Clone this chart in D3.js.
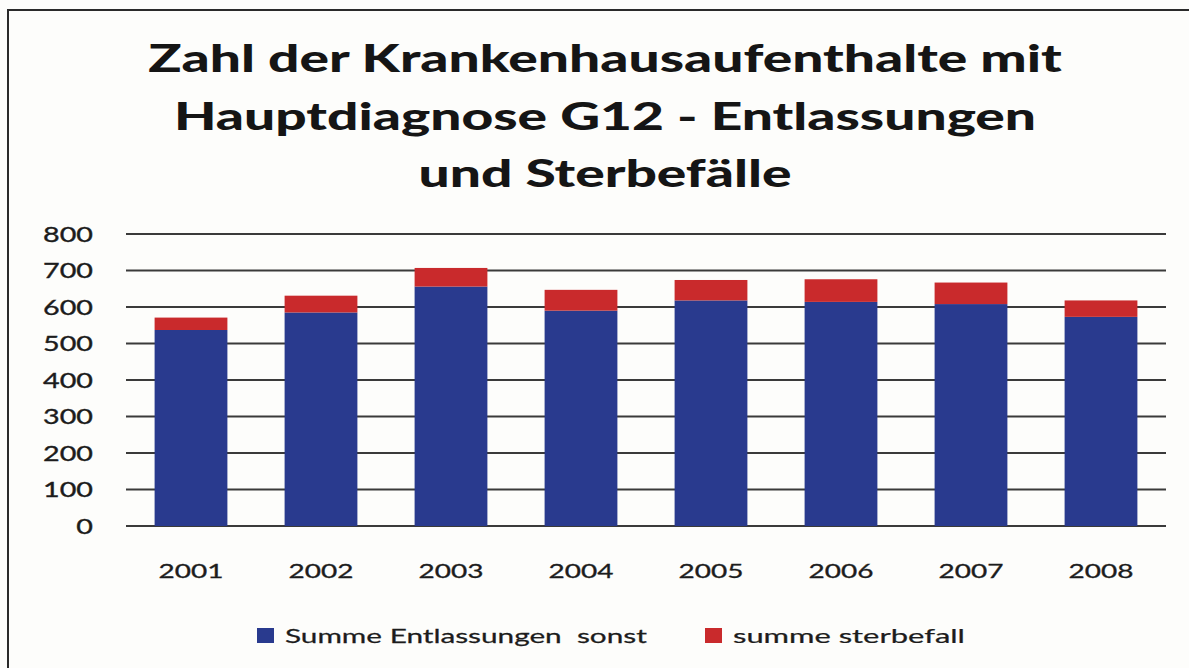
<!DOCTYPE html>
<html>
<head>
<meta charset="utf-8">
<script src="https://cdn.jsdelivr.net/npm/d3@7"></script>
<style>
  html, body { margin: 0; padding: 0; background: #fdfdfb; }
  svg { display: block; }
  text { font-family: Lato, "Open Sans", sans-serif; white-space: pre; }
</style>
</head>
<body>
<svg id="chart" width="1189" height="668"></svg>
<script>
// ---- data ----
const years = ["2001", "2002", "2003", "2004", "2005", "2006", "2007", "2008"];
const entlassungen = [537, 585, 656, 590, 618, 614, 608, 573];
const sterbefall = [34, 46, 51, 57, 56, 62, 59, 45];
const yTicks = [0, 100, 200, 300, 400, 500, 600, 700, 800];
const seriesNames = ["Summe Entlassungen  sonst", "summe sterbefall"];
const titleLines = ["Zahl der Krankenhausaufenthalte mit", "Hauptdiagnose G12 - Entlassungen", "und Sterbefälle"];

const colors = ["#293a8e", "#c92a2c"];

const svg = d3.select("#chart");
const W = 1189, H = 668;

svg.append("rect").attr("width", W).attr("height", H).attr("fill", "#fdfdfb");
// frame (extends beyond right/bottom edge as in the reference)
svg.append("rect").attr("x", 8).attr("y", 10).attr("width", W + 20).attr("height", H + 20)
  .attr("fill", "none").attr("stroke", "#2a2a2a").attr("stroke-width", 2);

const x = d3.scaleBand().domain(years).range([126, 1166]).paddingInner(0.44).paddingOuter(0.22);
const y = d3.scaleLinear().domain([0, 800]).range([526, 234]);

// helper: horizontal stretch factor (reference image is stretched)
function stretchText(sel, targetWidth) {
  const w = sel.node().getComputedTextLength();
  return targetWidth / w;
}

// gridlines
svg.append("g").selectAll("line").data(yTicks).join("line")
  .attr("x1", 126).attr("x2", 1166)
  .attr("y1", d => y(d)).attr("y2", d => y(d))
  .attr("stroke", "#3a3a3a").attr("stroke-width", 1.8);

// stacked bars
const stackData = years.map((yr, i) => ({ year: yr, a: entlassungen[i], b: sterbefall[i] }));
const stack = d3.stack().keys(["a", "b"])(stackData);
svg.append("g").selectAll("g").data(stack).join("g")
  .attr("fill", (d, i) => colors[i])
  .selectAll("rect").data(d => d).join("rect")
  .attr("x", d => x(d.data.year))
  .attr("width", x.bandwidth())
  .attr("y", d => y(d[1]))
  .attr("height", d => y(d[0]) - y(d[1]));

// title
const tg = svg.append("g");
const tLines = tg.selectAll("text").data(titleLines).join("text")
  .attr("font-weight", 900).attr("font-size", 38).attr("fill", "#151515")
  .attr("text-anchor", "middle")
  .text(d => d);
const tsx = stretchText(d3.select(tLines.nodes()[0]), 914);
const titleY = [72, 130, 187];
tLines.attr("transform", (d, i) => `translate(605,${titleY[i]}) scale(${tsx},1)`);

// y axis labels
const yl = svg.append("g").selectAll("text").data(yTicks).join("text")
  .attr("font-size", 21).attr("fill", "#1c1c1c").attr("text-anchor", "end")
  .attr("stroke", "#1c1c1c").attr("stroke-width", 0.35)
  .text(d => d);
const ysx = stretchText(d3.select(yl.nodes()[8]), 50);
yl.attr("transform", d => `translate(93,${y(d) + 7.5}) scale(${ysx},1)`);

// x axis labels
const xl = svg.append("g").selectAll("text").data(years).join("text")
  .attr("font-size", 19).attr("fill", "#1c1c1c").attr("text-anchor", "middle")
  .attr("stroke", "#1c1c1c").attr("stroke-width", 0.3)
  .text(d => d);
const xsx = stretchText(d3.select(xl.nodes()[1]), 65);
xl.attr("transform", d => `translate(${x(d) + x.bandwidth() / 2},578) scale(${xsx},1)`);

// legend
const legX = [257, 705];
const legW = [362, 232];
const lg = svg.append("g");
seriesNames.forEach((name, i) => {
  lg.append("rect").attr("x", legX[i]).attr("y", 628).attr("width", 17).attr("height", 15)
    .attr("fill", colors[i]);
  const t = lg.append("text").attr("font-size", 19.5).attr("fill", "#1c1c1c")
    .attr("stroke", "#1c1c1c").attr("stroke-width", 0.25).text(name);
  const s = stretchText(t, legW[i]);
  t.attr("transform", `translate(${legX[i] + 28},643) scale(${s},1)`);
});
</script>
</body>
</html>
